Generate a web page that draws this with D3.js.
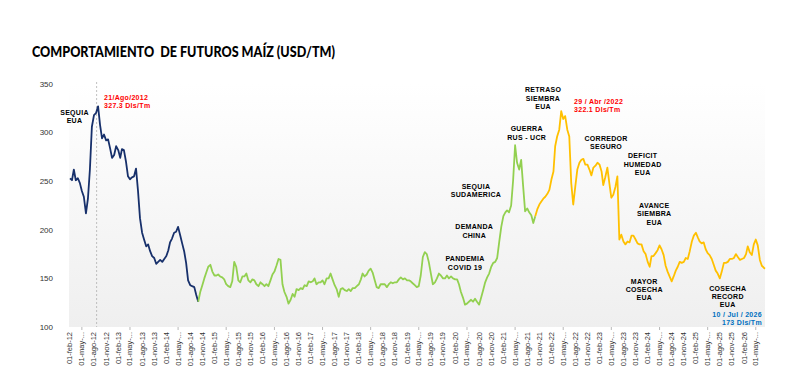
<!DOCTYPE html>
<html>
<head>
<meta charset="utf-8">
<script src="https://d3js.org/d3.v7.min.js"></script>
<title>Futuros Maiz</title>
<style>
  body { margin: 0; background: #fff; }
  text { font-family: "Liberation Sans", Arial, sans-serif; }
</style>
</head>
<body>
<script>
// precios quincenales (dia 1 y 16 de cada mes), USD/TM
var inicioAzul = "2012-02-01";
var tramoAzul = [253,251,262,251,253,248,240,234,217,232,262,306,318,320,327,308,294,298,292,293,
  284,274,277,286,282,274,283,282,270,255,252,254,255,263,240,212,197,190,183,185,
  178,173,171,165,167,169,167,170,173,179,187,191,197,198,203,195,186,178,166,148,
  143,142,141,133,126];

var inicioVerde = "2014-10-01";
var tramoVerde = [126,136,143,150,156,162,164,157,153,153,154,152,151,149,144,142,141,147,167,162,
  148,146,152,152,155,148,146,149,148,144,142,146,144,142,144,142,148,154,157,163,
  170,169,144,136,131,124,128,134,131,139,138,140,139,143,142,147,146,147,150,144,
  146,146,148,144,150,150,155,149,143,139,131,139,140,138,137,139,137,140,140,142,
  144,149,155,152,154,158,160,156,148,141,140,144,144,144,141,144,146,145,146,146,
  149,151,149,150,148,148,147,145,143,141,142,153,172,177,175,167,155,144,146,150,
  155,153,150,150,153,150,152,150,149,149,144,136,130,123,124,126,128,126,129,126,
  123,130,138,146,151,155,162,166,167,171,188,203,214,218,220,218,225,251,287,269,
  262,272,245,219,222,218,215,207,214];

var inicioAmarillo = "2021-10-01";
var tramoAmarillo = [214,221,226,229,232,234,237,241,252,260,286,296,303,322,314,317,303,296,248,226,
  245,262,269,272,273,267,267,262,256,264,266,269,267,260,246,254,264,248,233,236,
  244,255,190,195,188,185,188,187,194,194,190,186,185,185,178,175,167,162,173,173,
  176,179,184,180,174,163,157,152,147,152,158,162,167,166,167,171,170,178,188,194,
  197,192,188,186,187,180,176,174,170,164,158,155,150,157,166,166,167,170,170,171,
  175,172,169,170,171,175,183,177,174,185,190,184,169,163,161];
var ultimoDato = { fecha: "2026-07-10", valor: 160 };

var etiquetasX = [
  "01-feb-12","01-may-...","01-ago-12","01-nov-12","01-feb-13","01-may-...","01-ago-13","01-nov-13",
  "01-feb-14","01-may-...","01-ago-14","01-nov-14","01-feb-15","01-may-...","01-ago-15","01-nov-15",
  "01-feb-16","01-may-...","01-ago-16","01-nov-16","01-feb-17","01-may-...","01-ago-17","01-nov-17",
  "01-feb-18","01-may-...","01-ago-18","01-nov-18","01-feb-19","01-may-...","01-ago-19","01-nov-19",
  "01-feb-20","01-may-...","01-ago-20","01-nov-20","01-feb-21","01-may-...","01-ago-21","01-nov-21",
  "01-feb-22","01-may-...","01-ago-22","01-nov-22","01-feb-23","01-may-...","01-ago-23","01-nov-23",
  "01-feb-24","01-may-...","01-ago-24","01-nov-24","01-feb-25","01-may-...","01-ago-25","01-nov-25",
  "01-feb-26","01-may-..."];
var ticksY = [100, 150, 200, 250, 300, 350];

// notas sobre la grafica: fecha/valor de la primera linea
var notas = [
  { lineas: ["SEQUIA", "EUA"], fecha: "2012-03-06", valor: 321 },
  { lineas: ["PANDEMIA", "COVID 19"], fecha: "2020-04-16", valor: 170 },
  { lineas: ["DEMANDA", "CHINA"], fecha: "2020-06-25", valor: 203 },
  { lineas: ["SEQUIA", "SUDAMERICA"], fecha: "2020-07-08", valor: 245 },
  { lineas: ["GUERRA", "RUS - UCR"], fecha: "2021-07-28", valor: 304 },
  { lineas: ["RETRASO", "SIEMBRA", "EUA"], fecha: "2021-11-29", valor: 344 },
  { lineas: ["CORREDOR", "SEGURO"], fecha: "2023-03-22", valor: 294 },
  { lineas: ["DEFICIT", "HUMEDAD", "EUA"], fecha: "2023-12-25", valor: 276 },
  { lineas: ["AVANCE", "SIEMBRA", "EUA"], fecha: "2024-03-22", valor: 225 },
  { lineas: ["MAYOR", "COSECHA", "EUA"], fecha: "2024-01-06", valor: 147 },
  { lineas: ["COSECHA", "RECORD", "EUA"], fecha: "2025-09-30", valor: 140 }
];
var maximos = [
  { lineas: ["21/Ago/2012", "327.3 Dls/Tm"], fecha: "2012-10-16", valor: 336, color: "#ff0000", ancla: "start" },
  { lineas: ["29 / Abr /2022", "322.1 Dls/Tm"], fecha: "2022-07-22", valor: 332, color: "#ff0000", ancla: "start" },
  { lineas: ["10 / Jul / 2026", "173 Dls/Tm"], fecha: "2026-06-17", valor: 113, color: "#0070c0", ancla: "end" }
];
var fechaPico = "2012-08-21";

var parse = d3.timeParse("%Y-%m-%d");

function quincenas(inicio, valores) {
  var d0 = parse(inicio);
  return valores.map(function(v, i) {
    var f = d3.timeMonth.offset(d0, Math.floor(i / 2));
    if (i % 2) f = d3.timeDay.offset(f, 15);
    return { fecha: f, valor: v };
  });
}

var azul = quincenas(inicioAzul, tramoAzul),
    verde = quincenas(inicioVerde, tramoVerde),
    amarillo = quincenas(inicioAmarillo, tramoAmarillo);
amarillo.push({ fecha: parse(ultimoDato.fecha), valor: ultimoDato.valor });

var W = 800, H = 380,
    x0 = 70, x1 = 765, yTop = 84, yBot = 327;

var svg = d3.select("body").append("svg")
  .attr("width", W)
  .attr("height", H);

var x = d3.scaleTime()
  .domain([parse(inicioAzul), parse(ultimoDato.fecha)])
  .range([x0, x1]);
var y = d3.scaleLinear()
  .domain([100, 350])
  .range([yBot, yTop]);

// fondo degradado del area de trazado
var grad = svg.append("defs").append("linearGradient")
  .attr("id", "fondo")
  .attr("x1", 0).attr("y1", 0).attr("x2", 0).attr("y2", 1);
grad.append("stop").attr("offset", "0%").attr("stop-color", "#ffffff");
grad.append("stop").attr("offset", "100%").attr("stop-color", "#efefef");

svg.append("rect")
  .attr("x", x0 - 1).attr("y", yTop)
  .attr("width", x1 - x0 + 1).attr("height", yBot - yTop)
  .attr("fill", "url(#fondo)");

svg.append("text")
  .attr("x", 32).attr("y", 57)
  .style("font-family", "Lato, 'Open Sans', sans-serif")
  .style("font-weight", "900")
  .style("font-size", "15.5px")
  .style("white-space", "pre")
  .attr("textLength", 303)
  .attr("lengthAdjust", "spacingAndGlyphs")
  .attr("fill", "#000")
  .text("COMPORTAMIENTO  DE FUTUROS MAÍZ (USD/TM)");

// eje y
svg.append("g").selectAll("text")
  .data(ticksY)
  .enter().append("text")
    .attr("x", 53)
    .attr("y", function(d){ return y(d); })
    .attr("dy", "0.35em")
    .attr("text-anchor", "end")
    .style("font-size", "8px")
    .attr("fill", "#333")
    .text(function(d){ return d; });

// eje x: trimestral
var fechasX = etiquetasX.map(function(t, i){ return d3.timeMonth.offset(parse(inicioAzul), i * 3); });

svg.append("g").selectAll("text")
  .data(etiquetasX)
  .enter().append("text")
    .attr("transform", function(d, i){ return "translate(" + x(fechasX[i]) + "," + (yBot + 5) + ") rotate(-90)"; })
    .attr("dy", "0.33em")
    .attr("text-anchor", "end")
    .style("font-size", "7.5px")
    .attr("fill", "#333")
    .text(function(d){ return d; });

svg.append("g").selectAll("line")
  .data(fechasX.filter(function(d, i){ return i % 4 == 1; }))
  .enter().append("line")
    .attr("x1", function(d){ return x(d); })
    .attr("x2", function(d){ return x(d); })
    .attr("y1", yBot).attr("y2", yBot + 3)
    .attr("stroke", "#999")
    .attr("stroke-width", 0.7);

// linea vertical del maximo 2012
svg.append("line")
  .attr("x1", x(parse(fechaPico))).attr("x2", x(parse(fechaPico)))
  .attr("y1", yTop - 2).attr("y2", yBot)
  .attr("stroke", "#b0b0b0")
  .attr("stroke-width", 0.8)
  .attr("stroke-dasharray", "2,2");

var linea = d3.line()
  .x(function(d){ return x(d.fecha); })
  .y(function(d){ return y(d.valor); });

[[azul, "#17306b"], [verde, "#92d050"], [amarillo, "#ffc000"]].forEach(function(s){
  svg.append("path")
    .datum(s[0])
    .attr("d", linea)
    .attr("fill", "none")
    .attr("stroke", s[1])
    .attr("stroke-width", 1.8)
    .attr("stroke-linejoin", "round");
});

function escribir(n, color, ancla) {
  var t = svg.append("text")
    .attr("text-anchor", ancla)
    .style("font-size", "7px")
    .style("font-weight", "bold")
    .style("letter-spacing", "0.3px")
    .attr("fill", color);
  n.lineas.forEach(function(l, i){
    t.append("tspan")
      .attr("x", x(parse(n.fecha)))
      .attr("y", y(n.valor) + 2.5 + i * 8.3)
      .text(l);
  });
}

notas.forEach(function(n){ escribir(n, "#000", "middle"); });
maximos.forEach(function(n){ escribir(n, n.color, n.ancla); });
</script>
</body>
</html>
